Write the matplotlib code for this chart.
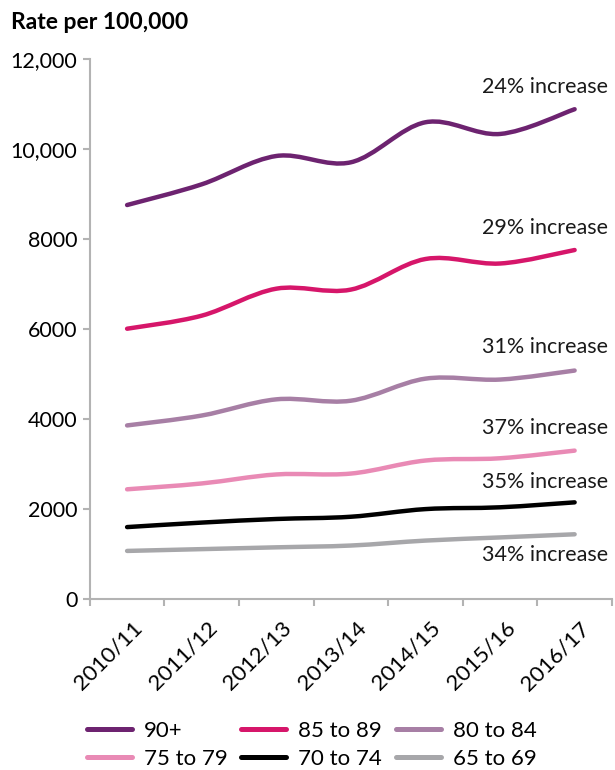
import matplotlib.pyplot as plt
import numpy as np
from matplotlib.path import Path
from matplotlib.patches import PathPatch
from matplotlib.lines import Line2D
from matplotlib.ticker import FuncFormatter
from matplotlib.transforms import ScaledTranslation

plt.rcParams['font.family'] = ['Lato', 'DejaVu Sans']

years = ['2010/11', '2011/12', '2012/13', '2013/14', '2014/15', '2015/16', '2016/17']
groups = ['90+', '85 to 89', '80 to 84', '75 to 79', '70 to 74', '65 to 69']
rate_90 = [8760, 9220, 9850, 9710, 10600, 10340, 10890]
rate_85 = [6010, 6300, 6900, 6880, 7560, 7460, 7760]
rate_80 = [3860, 4080, 4440, 4410, 4900, 4880, 5080]
rate_75 = [2440, 2570, 2770, 2790, 3080, 3130, 3300]
rate_70 = [1600, 1700, 1780, 1830, 2000, 2040, 2150]
rate_65 = [1070, 1110, 1150, 1190, 1300, 1370, 1440]
increase = ['24% increase', '29% increase', '31% increase', '37% increase', '35% increase', '34% increase']

series = [rate_90, rate_85, rate_80, rate_75, rate_70, rate_65]
colors = ['#6d2370', '#d6166a', '#a77fa5', '#e98ab5', '#000000', '#a7a7aa']
label_y = [11390, 8240, 5600, 3800, 2600, 980]  # label placement


def smooth_path(x, y):
    # Catmull-Rom style Bezier, like a spreadsheet "smoothed line"
    pts = np.column_stack([x, y]).astype(float)
    p = np.vstack([pts[0], pts, pts[-1]])
    verts = [pts[0]]
    codes = [Path.MOVETO]
    for i in range(1, len(p) - 2):
        c1 = p[i] + (p[i + 1] - p[i - 1]) / 6
        c2 = p[i + 1] - (p[i + 2] - p[i]) / 6
        verts += [c1, c2, p[i + 1]]
        codes += [Path.CURVE4] * 3
    return Path(verts, codes)


W, H = 615, 770
fig = plt.figure(figsize=(W / 100, H / 100), dpi=100)
ax = fig.add_axes([0.146, 0.222, 0.849, 0.701])

x = np.arange(len(years))
for vals, col in zip(series, colors):
    ax.add_patch(PathPatch(smooth_path(x, vals), fill=False, edgecolor=col,
                           lw=3.2, capstyle='round'))

for txt, yy in zip(increase, label_y):
    ax.text(6.45, yy, txt, ha='right', va='center', fontsize=15.5, color='#1a1a1a')

ax.set_xlim(-0.5, 6.5)
ax.set_ylim(0, 12000)
ax.set_yticks(np.arange(0, 12001, 2000))
ax.yaxis.set_major_formatter(FuncFormatter(lambda v, p: f'{int(v):,}' if v >= 10000 else f'{int(v)}'))
ax.set_xticks(np.arange(-0.5, 7, 1))
ax.set_xticklabels([])
ax.tick_params(axis='x', which='major', length=5, color='#b3b3b3', width=1.5)
ax.tick_params(axis='y', length=5, color='#b3b3b3', width=1.5, labelsize=15.5, pad=4)

# rotated category labels, anchored by their right end
lab_tr = ax.get_xaxis_transform() + ScaledTranslation(0.12, -0.26, fig.dpi_scale_trans)
for xi, yr in zip(x, years):
    ax.text(xi, 0, yr, transform=lab_tr, rotation=45, rotation_mode='anchor',
            ha='right', va='center', fontsize=16)

for s in ['top', 'right']:
    ax.spines[s].set_visible(False)
for s in ['left', 'bottom']:
    ax.spines[s].set_color('#b3b3b3')
    ax.spines[s].set_linewidth(1.5)

fig.text(0.018, 0.971, 'Rate per 100,000', fontsize=16.5, fontweight='bold', va='center')

# legend laid out row by row, 3 columns
col_x = [87, 241, 396]
row_y = [729, 757]
for i, (name, col) in enumerate(zip(groups, colors)):
    x0 = col_x[i % 3]
    y0 = H - row_y[i // 3]
    fig.add_artist(Line2D([x0 / W, (x0 + 45) / W], [y0 / H, y0 / H], color=col,
                          lw=3.6, solid_capstyle='round', transform=fig.transFigure))
    fig.text((x0 + 57) / W, y0 / H, name, fontsize=16, va='center_baseline', ha='left')

fig.savefig('out.png', dpi=100)
